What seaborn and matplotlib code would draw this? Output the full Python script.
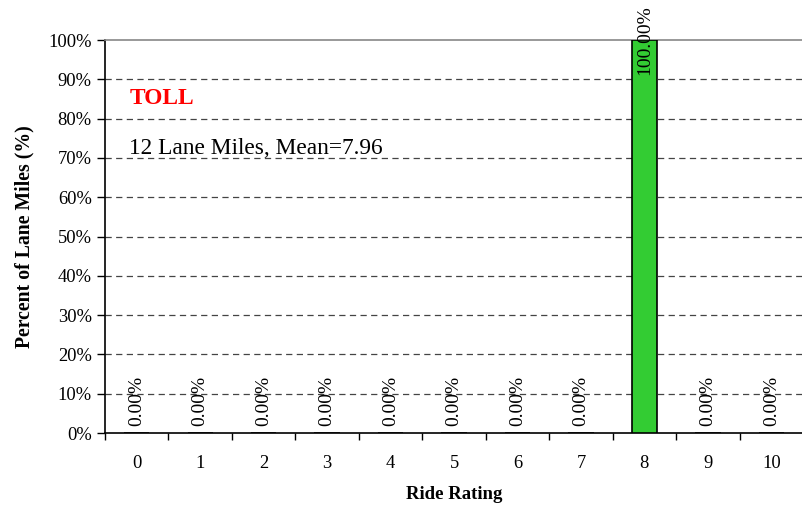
import numpy as np
import pandas as pd
import matplotlib
matplotlib.use("Agg")
import matplotlib.pyplot as plt
import seaborn as sns
from matplotlib.ticker import FuncFormatter

ratings = ["0", "1", "2", "3", "4", "5", "6", "7", "8", "9", "10"]
percents = [0, 0, 0, 0, 0, 0, 0, 0, 100, 0, 0]
y_ticks = [0, 10, 20, 30, 40, 50, 60, 70, 80, 90, 100]
title_text = "TOLL"
info_text = "12 Lane Miles, Mean=7.96"

sns.set_style("white")
plt.rcParams["font.family"] = ["Liberation Serif", "DejaVu Serif"]
plt.rcParams["text.color"] = "black"
plt.rcParams["axes.labelcolor"] = "black"
plt.rcParams["xtick.color"] = "black"
plt.rcParams["ytick.color"] = "black"

df = pd.DataFrame({"Ride Rating": ratings, "Percent": percents})

fig = plt.figure(figsize=(8.03, 5.09), dpi=100)
ax = fig.add_axes([0.1308, 0.1493, 0.8692, 0.7721])

sns.barplot(data=df, x="Ride Rating", y="Percent", order=ratings,
            color="#33CC33", edgecolor="black", linewidth=1.2,
            width=0.4, saturation=1, ax=ax, zorder=3)

ax.set_xlim(-0.5, len(ratings) - 0.5)
ax.set_ylim(0, 100)

# dashed gridlines (inner ticks), top line solid grey
ax.hlines(y_ticks[1:-1], -0.5, len(ratings) - 0.5, colors="#444444",
          linestyles=(0, (5, 3.5)), linewidth=0.9, zorder=1)
ax.spines["right"].set_visible(False)
ax.spines["top"].set_color("#888888")
ax.spines["top"].set_linewidth(1.2)
for side in ["left", "bottom"]:
    ax.spines[side].set_color("black")
    ax.spines[side].set_linewidth(1.2)

ax.set_yticks(y_ticks)
ax.yaxis.set_major_formatter(FuncFormatter(lambda v, p: f"{int(v)}%"))
ax.tick_params(axis="y", direction="out", length=5.5, width=1,
               labelsize=13.3, pad=4, left=True)

ax.set_xticks(range(len(ratings)))
ax.set_xticklabels(ratings)
ax.set_xticks(np.arange(-0.5, len(ratings)), minor=True)
ax.tick_params(axis="x", which="major", length=0, labelsize=13.3, pad=16)
ax.tick_params(axis="x", which="minor", direction="out", length=5, width=1,
               bottom=True)

ax.set_xlabel("Ride Rating", fontsize=13.5, fontweight="bold", labelpad=10)
ax.set_ylabel("Percent of Lane Miles (%)", fontsize=14.2, fontweight="bold", labelpad=10)

# value labels
for i, v in enumerate(percents):
    lab = f"{v:.2f}%"
    if v < 50:
        ax.annotate(lab, (i, v), xytext=(0, 5), textcoords="offset points",
                    rotation=90, ha="center", va="bottom", fontsize=14, zorder=4)
    else:
        ax.annotate(lab, (i, v), rotation=90, ha="center", va="center",
                    fontsize=14, zorder=4, annotation_clip=False)

ax.text(0.035, 0.85, title_text, transform=ax.transAxes, color="red",
        fontsize=16.8, fontweight="bold", ha="left", va="center")
ax.text(0.035, 0.725, info_text, transform=ax.transAxes, color="black",
        fontsize=16.8, ha="left", va="center")

fig.savefig("out.png", dpi=100)
